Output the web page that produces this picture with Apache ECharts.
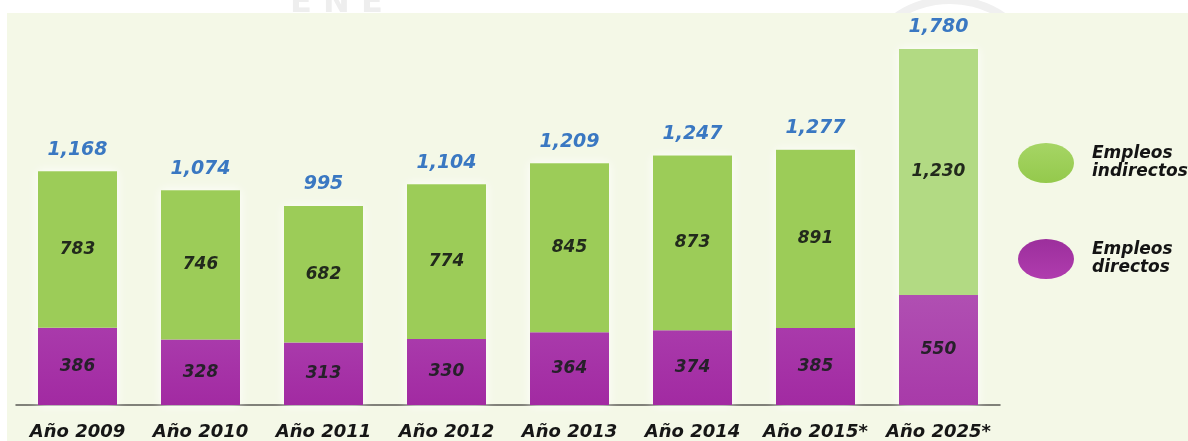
<!DOCTYPE html>
<html>
<head>
<meta charset="utf-8">
<script src="https://cdn.jsdelivr.net/npm/echarts@6/dist/echarts.min.js"></script>
<style>
  html, body { margin: 0; padding: 0; background: #ffffff; }
  #chart { width: 1188px; height: 441px; }
</style>
</head>
<body>
<div id="chart"></div>
<script>
// Empleos directos e indirectos por año
const years = ['Año 2009', 'Año 2010', 'Año 2011', 'Año 2012', 'Año 2013', 'Año 2014', 'Año 2015*', 'Año 2025*'];
const directos = [386, 328, 313, 330, 364, 374, 385, 550];
const indirectos = [783, 746, 682, 774, 845, 873, 891, 1230];
const totales = [1168, 1074, 995, 1104, 1209, 1247, 1277, 1780];
// the last category is a projection and is drawn in lighter tones
const proyeccion = [false, false, false, false, false, false, false, true];

const FONT = 'DejaVu Sans';
const ellipse = 'path://M0,20A28,20,0,1,1,56,20A28,20,0,1,1,0,20Z';

const fmtThousands = v => String(v).replace(/\B(?=(\d{3})+(?!\d))/g, ',');

const purpleFill = light => new echarts.graphic.LinearGradient(0, 0, 0, 1, light
  ? [{ offset: 0, color: '#b04fb2' }, { offset: 1, color: '#a83aa9' }]
  : [{ offset: 0, color: '#a93aab' }, { offset: 1, color: '#a22aa2' }]);

const chart = echarts.init(document.getElementById('chart'), null, { renderer: 'canvas' });

chart.setOption({
  animation: false,
  backgroundColor: '#ffffff',
  graphic: [
    {
      type: 'rect', z: -20, silent: true,
      shape: { x: 7, y: 13, width: 1181, height: 428 },
      style: { fill: '#f4f8e7' }
    },
    {
      type: 'text', z: -25, silent: true, left: 290, top: -12,
      style: { text: 'E N E', fill: '#eeeeee', font: 'bold 32px ' + FONT }
    },
    {
      type: 'arc', z: -25, silent: true,
      shape: { cx: 950, cy: 95, r: 95, startAngle: Math.PI * 1.2, endAngle: Math.PI * 1.8 },
      style: { stroke: '#f0f0f0', lineWidth: 8, fill: null }
    }
  ],
  legend: {
    orient: 'vertical',
    left: 1013,
    top: 138,
    itemWidth: 56,
    itemHeight: 41,
    itemGap: 56,
    data: [
      {
        name: 'Empleos indirectos', icon: ellipse,
        itemStyle: {
          color: new echarts.graphic.LinearGradient(0, 0, 0, 1, [
            { offset: 0, color: '#a6d565' }, { offset: 1, color: '#94c94c' }])
        }
      },
      {
        name: 'Empleos directos', icon: ellipse,
        itemStyle: {
          color: new echarts.graphic.LinearGradient(0, 0, 0, 1, [
            { offset: 0, color: '#9c2f9c' }, { offset: 1, color: '#b03cae' }])
        }
      }
    ],
    formatter: name => name.replace(' ', '\n'),
    textStyle: {
      fontFamily: FONT, fontSize: 17, fontWeight: 'bold', fontStyle: 'italic',
      color: '#141414', lineHeight: 18, padding: [0, 0, 0, 13]
    },
    selectedMode: false
  },
  grid: { left: 16, right: 188, top: 5, bottom: 35 },
  xAxis: {
    type: 'category',
    data: years,
    axisLine: { lineStyle: { color: '#5a5a55', width: 1.5 } },
    axisTick: { show: false },
    axisLabel: {
      interval: 0,
      hideOverlap: false,
      margin: 18,
      fontFamily: FONT, fontSize: 18, fontWeight: 'bold', fontStyle: 'italic',
      color: '#161616'
    }
  },
  yAxis: { type: 'value', min: 0, max: 2000, show: false, splitLine: { show: false } },
  series: [
    {
      // white backing bar for the halo, carries the total label
      name: 'Total',
      type: 'bar',
      barWidth: 79,
      barGap: '-100%',
      z: 1,
      data: totales,
      itemStyle: { color: '#ffffff', shadowBlur: 10, shadowColor: 'rgba(255,255,255,0.95)' },
      label: {
        show: true, position: 'top', distance: 12,
        formatter: p => fmtThousands(p.value),
        fontFamily: FONT, fontSize: 19, fontWeight: 'bold', fontStyle: 'italic',
        color: '#3a78c2'
      },
      emphasis: { disabled: true }
    },
    {
      name: 'Empleos directos',
      type: 'bar',
      stack: 'empleos',
      barWidth: 79,
      z: 2,
      data: directos,
      itemStyle: { color: p => purpleFill(proyeccion[p.dataIndex]) },
      label: {
        show: true, position: 'inside',
        formatter: p => fmtThousands(p.value),
        fontFamily: FONT, fontSize: 17, fontWeight: 'bold', fontStyle: 'italic',
        color: '#26202a'
      },
      emphasis: { disabled: true }
    },
    {
      name: 'Empleos indirectos',
      type: 'bar',
      stack: 'empleos',
      barWidth: 79,
      z: 2,
      data: indirectos,
      itemStyle: {
        color: p => proyeccion[p.dataIndex] ? '#b2da83' : '#9ccc58'
      },
      label: {
        show: true, position: 'inside',
        formatter: p => fmtThousands(p.value),
        fontFamily: FONT, fontSize: 17, fontWeight: 'bold', fontStyle: 'italic',
        color: '#222a1c'
      },
      emphasis: { disabled: true }
    }
  ]
});
</script>
</body>
</html>
